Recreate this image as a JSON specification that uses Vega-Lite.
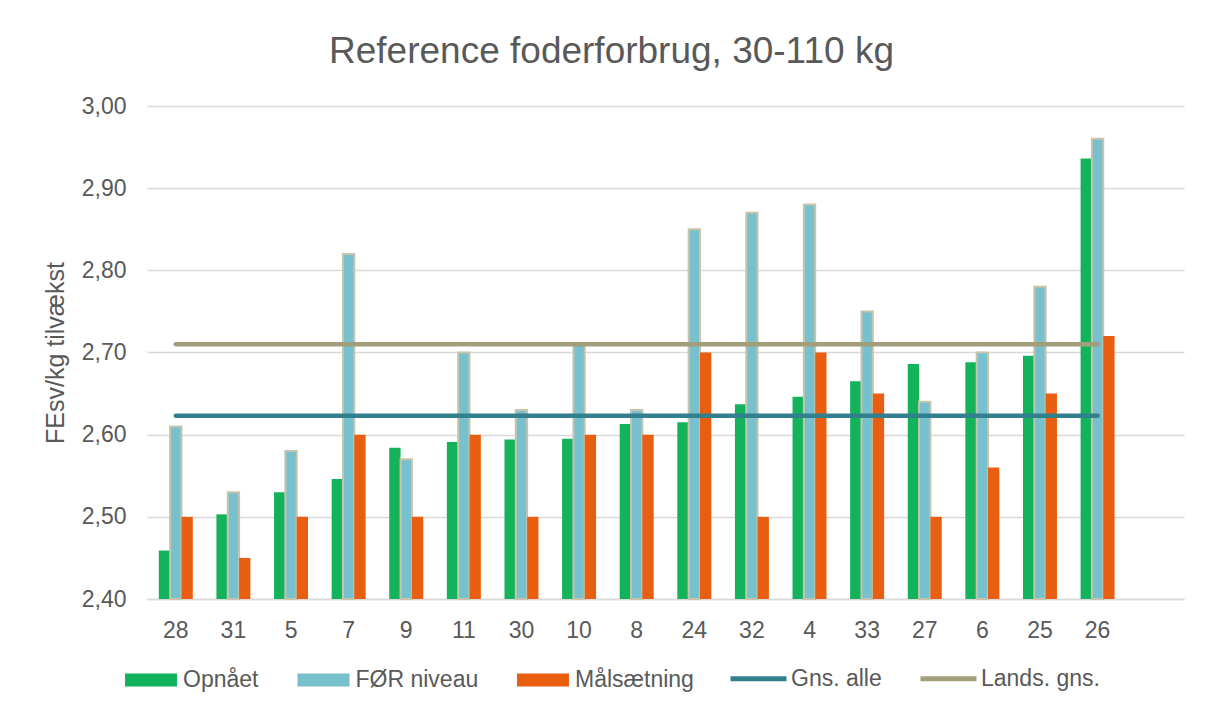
{
  "$schema": "https://vega.github.io/schema/vega-lite/v6.json",
  "autosize": {"type": "none"},
  "width": 1037,
  "height": 493,
  "padding": {"left": 147, "top": 106, "right": 22, "bottom": 112},
  "background": "white",
  "title": {
    "text": "Reference foderforbrug, 30-110 kg",
    "anchor": "middle",
    "frame": "group",
    "font": "Liberation Sans",
    "fontSize": 37,
    "fontWeight": "normal",
    "color": "#595959",
    "baseline": "alphabetic",
    "offset": -5,
    "dx": -54
  },
  "datasets": {
    "bars": [
      {"bedrift": "28", "Opnået": 2.459, "FØR niveau": 2.61, "Målsætning": 2.50},
      {"bedrift": "31", "Opnået": 2.503, "FØR niveau": 2.53, "Målsætning": 2.45},
      {"bedrift": "5", "Opnået": 2.530, "FØR niveau": 2.58, "Målsætning": 2.50},
      {"bedrift": "7", "Opnået": 2.546, "FØR niveau": 2.82, "Målsætning": 2.60},
      {"bedrift": "9", "Opnået": 2.584, "FØR niveau": 2.57, "Målsætning": 2.50},
      {"bedrift": "11", "Opnået": 2.591, "FØR niveau": 2.70, "Målsætning": 2.60},
      {"bedrift": "30", "Opnået": 2.594, "FØR niveau": 2.63, "Målsætning": 2.50},
      {"bedrift": "10", "Opnået": 2.595, "FØR niveau": 2.71, "Målsætning": 2.60},
      {"bedrift": "8", "Opnået": 2.613, "FØR niveau": 2.63, "Målsætning": 2.60},
      {"bedrift": "24", "Opnået": 2.615, "FØR niveau": 2.85, "Målsætning": 2.70},
      {"bedrift": "32", "Opnået": 2.637, "FØR niveau": 2.87, "Målsætning": 2.50},
      {"bedrift": "4", "Opnået": 2.646, "FØR niveau": 2.88, "Målsætning": 2.70},
      {"bedrift": "33", "Opnået": 2.665, "FØR niveau": 2.75, "Målsætning": 2.65},
      {"bedrift": "27", "Opnået": 2.686, "FØR niveau": 2.64, "Målsætning": 2.50},
      {"bedrift": "6", "Opnået": 2.688, "FØR niveau": 2.70, "Målsætning": 2.56},
      {"bedrift": "25", "Opnået": 2.696, "FØR niveau": 2.78, "Målsætning": 2.65},
      {"bedrift": "26", "Opnået": 2.936, "FØR niveau": 2.96, "Målsætning": 2.72}
    ],
    "lines": [
      {"bedrift": "28", "serie": "Gns. alle", "value": 2.623},
      {"bedrift": "31", "serie": "Gns. alle", "value": 2.623},
      {"bedrift": "5", "serie": "Gns. alle", "value": 2.623},
      {"bedrift": "7", "serie": "Gns. alle", "value": 2.623},
      {"bedrift": "9", "serie": "Gns. alle", "value": 2.623},
      {"bedrift": "11", "serie": "Gns. alle", "value": 2.623},
      {"bedrift": "30", "serie": "Gns. alle", "value": 2.623},
      {"bedrift": "10", "serie": "Gns. alle", "value": 2.623},
      {"bedrift": "8", "serie": "Gns. alle", "value": 2.623},
      {"bedrift": "24", "serie": "Gns. alle", "value": 2.623},
      {"bedrift": "32", "serie": "Gns. alle", "value": 2.623},
      {"bedrift": "4", "serie": "Gns. alle", "value": 2.623},
      {"bedrift": "33", "serie": "Gns. alle", "value": 2.623},
      {"bedrift": "27", "serie": "Gns. alle", "value": 2.623},
      {"bedrift": "6", "serie": "Gns. alle", "value": 2.623},
      {"bedrift": "25", "serie": "Gns. alle", "value": 2.623},
      {"bedrift": "26", "serie": "Gns. alle", "value": 2.623},
      {"bedrift": "28", "serie": "Lands. gns.", "value": 2.71},
      {"bedrift": "31", "serie": "Lands. gns.", "value": 2.71},
      {"bedrift": "5", "serie": "Lands. gns.", "value": 2.71},
      {"bedrift": "7", "serie": "Lands. gns.", "value": 2.71},
      {"bedrift": "9", "serie": "Lands. gns.", "value": 2.71},
      {"bedrift": "11", "serie": "Lands. gns.", "value": 2.71},
      {"bedrift": "30", "serie": "Lands. gns.", "value": 2.71},
      {"bedrift": "10", "serie": "Lands. gns.", "value": 2.71},
      {"bedrift": "8", "serie": "Lands. gns.", "value": 2.71},
      {"bedrift": "24", "serie": "Lands. gns.", "value": 2.71},
      {"bedrift": "32", "serie": "Lands. gns.", "value": 2.71},
      {"bedrift": "4", "serie": "Lands. gns.", "value": 2.71},
      {"bedrift": "33", "serie": "Lands. gns.", "value": 2.71},
      {"bedrift": "27", "serie": "Lands. gns.", "value": 2.71},
      {"bedrift": "6", "serie": "Lands. gns.", "value": 2.71},
      {"bedrift": "25", "serie": "Lands. gns.", "value": 2.71},
      {"bedrift": "26", "serie": "Lands. gns.", "value": 2.71}
    ]
  },
  "encoding": {
    "x": {
      "field": "bedrift",
      "type": "nominal",
      "scale": {
        "domain": ["28", "31", "5", "7", "9", "11", "30", "10", "8", "24", "32", "4", "33", "27", "6", "25", "26", " "],
        "paddingInner": 0.41,
        "paddingOuter": 0.205
      },
      "axis": {
        "title": null,
        "labelAngle": 0,
        "labelFont": "Liberation Sans",
        "labelFontSize": 23,
        "labelColor": "#595959",
        "labelPadding": 20,
        "ticks": false,
        "domain": true,
        "domainColor": "#D9D9D9",
        "domainWidth": 1.5,
        "grid": false
      }
    },
    "y": {
      "field": "value",
      "type": "quantitative",
      "scale": {"domain": [2.4, 3.0], "nice": false, "zero": false},
      "axis": {
        "title": "FEsv/kg tilvækst",
        "titleFont": "Liberation Sans",
        "titleFontSize": 25,
        "titleFontWeight": "normal",
        "titleColor": "#595959",
        "titlePadding": 13,
        "values": [2.4, 2.5, 2.6, 2.7, 2.8, 2.9, 3.0],
        "labelExpr": "replace(format(datum.value, '.2f'), '.', ',')",
        "labelFont": "Liberation Sans",
        "labelFontSize": 23,
        "labelColor": "#595959",
        "labelPadding": 21,
        "ticks": false,
        "domain": false,
        "gridColor": "#D9D9D9",
        "gridWidth": 1.5
      }
    }
  },
  "layer": [
    {
      "data": {"name": "bars"},
      "transform": [
        {"fold": ["Opnået", "FØR niveau", "Målsætning"], "as": ["serie", "value"]}
      ],
      "mark": {"type": "bar"},
      "encoding": {
        "xOffset": {
          "field": "serie",
          "type": "nominal",
          "scale": {"domain": ["Opnået", "FØR niveau", "Målsætning"], "paddingInner": 0, "paddingOuter": 0}
        },
        "y2": {"datum": 2.4},
        "color": {
          "field": "serie",
          "type": "nominal",
          "scale": {
            "domain": ["Opnået", "FØR niveau", "Målsætning"],
            "range": ["#13B35B", "#77C0CE", "#E85F12"]
          },
          "legend": {
            "title": null,
            "orient": "none",
            "direction": "horizontal",
            "legendX": -22,
            "legendY": 548,
            "columns": 3,
            "symbolSize": 2704,
            "labelFont": "Liberation Sans",
            "labelFontSize": 23,
            "labelColor": "#595959",
            "labelOffset": 6,
            "columnPadding": 38.5,
            "symbolType": "M-1,-0.25H1V0.25H-1Z",
            "symbolStrokeWidth": 0,
            "symbolOpacity": 1
          }
        },
        "stroke": {
          "condition": {"test": "datum.serie === 'FØR niveau'", "value": "#C8C3AB"},
          "value": "transparent"
        },
        "strokeWidth": {
          "condition": {"test": "datum.serie === 'FØR niveau'", "value": 2},
          "value": 0
        }
      }
    },
    {
      "data": {"name": "lines"},
      "mark": {"type": "line", "strokeWidth": 4.5, "strokeCap": "round"},
      "encoding": {
        "stroke": {
          "field": "serie",
          "type": "nominal",
          "scale": {
            "domain": ["Gns. alle", "Lands. gns."],
            "range": ["#327F8E", "#A29E7A"]
          },
          "legend": {
            "title": null,
            "orient": "none",
            "direction": "horizontal",
            "legendX": 581,
            "legendY": 542,
            "columns": 2,
            "symbolSize": 3136,
            "labelFont": "Liberation Sans",
            "labelFontSize": 23,
            "labelColor": "#595959",
            "labelOffset": 2,
            "columnPadding": 28,
            "symbolType": "M-1,0H1",
            "symbolStrokeWidth": 5,
            "symbolOpacity": 1
          }
        }
      }
    }
  ],
  "resolve": {"legend": {"color": "independent", "stroke": "independent"}},
  "config": {
    "view": {"stroke": null},
    "font": "Liberation Sans"
  }
}
